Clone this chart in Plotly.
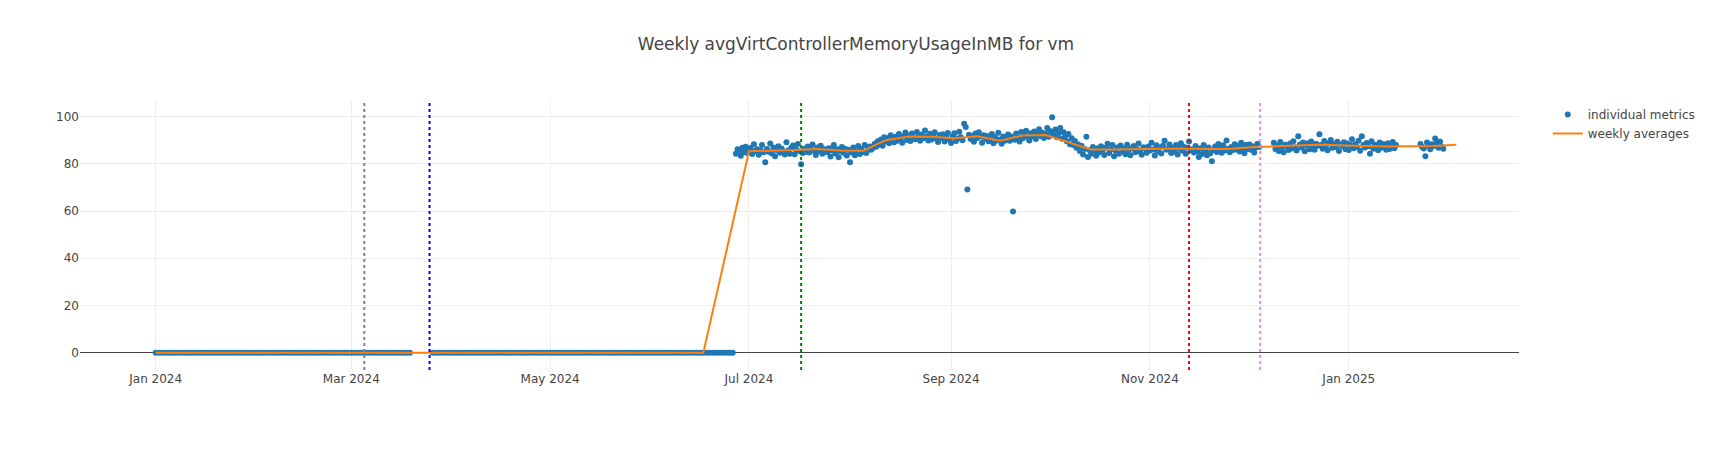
import pandas as pd
import plotly.graph_objects as go

TITLE = "Weekly avgVirtControllerMemoryUsageInMB for vm"

# ---- individual metrics, in segments (start, sampling step, values) ----
zero_seg1_start = "2024-01-01"
zero_seg1_step = "1D"
zero_seg1_values = [
    0, 0, 0, 0, 0, 0, 0, 0, 0, 0,
    0, 0, 0, 0, 0, 0, 0, 0, 0, 0,
    0, 0, 0, 0, 0, 0, 0, 0, 0, 0,
    0, 0, 0, 0, 0, 0, 0, 0, 0, 0,
    0, 0, 0, 0, 0, 0, 0, 0, 0, 0,
    0, 0, 0, 0, 0, 0, 0, 0, 0, 0,
    0, 0, 0, 0, 0, 0, 0, 0, 0, 0,
    0, 0, 0, 0, 0, 0, 0, 0, 0,
]

zero_seg2_start = "2024-03-26"
zero_seg2_step = "1D"
zero_seg2_values = [
    0, 0, 0, 0, 0, 0, 0, 0, 0, 0,
    0, 0, 0, 0, 0, 0, 0, 0, 0, 0,
    0, 0, 0, 0, 0, 0, 0, 0, 0, 0,
    0, 0, 0, 0, 0, 0, 0, 0, 0, 0,
    0, 0, 0, 0, 0, 0, 0, 0, 0, 0,
    0, 0, 0, 0, 0, 0, 0, 0, 0, 0,
    0, 0, 0, 0, 0, 0, 0, 0, 0, 0,
    0, 0, 0, 0, 0, 0, 0, 0, 0, 0,
    0, 0, 0, 0, 0, 0, 0, 0, 0, 0,
    0, 0, 0,
]

high_seg1_start = "2024-06-27"
high_seg1_step = "12h"
high_seg1_values = [
    84.2, 86.1, 85.3, 83.4, 86.8, 85.0, 87.2, 84.6, 85.9, 86.7, 84.1, 88.3, 85.4, 86.2,
    83.8, 85.7, 87.9, 84.9, 80.6, 86.3, 85.1, 88.6, 84.4, 86.9, 83.2, 85.8, 87.4, 84.7,
    86.5, 85.2, 83.9, 89.1, 85.6, 84.3, 86.8, 87.7, 84.0, 85.9, 88.4, 85.3, 79.8, 84.6,
    86.4, 85.1, 87.3, 84.8, 86.0, 88.2, 85.5, 83.7, 86.9, 85.4, 87.6, 84.2, 86.3, 85.8,
    84.9, 86.6, 83.1, 85.7, 87.9, 84.4, 86.2, 82.8, 85.3, 87.1, 84.7, 86.4, 83.5, 85.9,
    80.7, 84.8, 86.9, 83.6, 85.2, 87.5, 84.1, 86.3, 85.0, 88.0, 84.6, 86.8, 87.3, 85.9,
    86.7, 88.4, 87.2, 89.5, 88.1, 90.3, 87.6, 91.2, 89.4, 90.8, 88.7, 92.1, 90.2, 89.1,
    91.4, 89.8, 92.6, 90.5, 88.9, 91.7, 93.2, 90.1, 91.9, 89.6, 92.8, 91.0, 90.4, 93.5,
    91.3, 89.7, 92.4, 90.8, 94.1, 91.6, 89.9, 92.7, 90.3, 91.8, 93.3, 90.6, 89.2, 92.2,
    90.9, 92.5, 89.4, 91.1, 93.0, 90.2, 88.8, 91.5, 92.9, 89.6, 90.7, 93.6, 91.2, 90.0,
    97.0, 95.6, 69.1, 92.3, 90.5, 91.9, 89.3, 92.8, 90.9, 93.4, 91.5, 88.9, 92.1, 90.6,
    91.8, 89.5, 90.7, 92.6, 88.7, 91.2, 89.9, 93.1, 90.3, 88.5, 91.6, 89.8, 90.9, 92.4,
    89.7, 91.5, 59.8, 90.2, 92.8, 91.1, 89.4, 93.5, 90.8, 92.2, 94.0, 91.3, 89.9, 92.9,
    91.6, 93.7, 90.5, 92.4, 94.6, 91.8, 93.1, 90.9, 92.7, 95.2, 91.4, 93.8, 99.7, 92.3,
    94.5, 91.2, 92.9, 95.1, 90.6, 93.4, 91.7, 89.5, 92.6, 88.3, 90.8, 87.9, 89.6, 86.8,
    88.2, 85.4, 87.6, 83.9, 86.3, 91.4, 82.9, 85.7, 84.3, 87.1, 85.0, 83.4, 86.6, 84.8,
    87.4, 85.9, 83.7, 86.8, 88.5, 84.6, 86.1, 87.9, 83.2, 85.5, 86.9, 84.2, 87.7, 85.3,
    86.4, 84.0, 88.1, 85.8, 83.6, 86.7, 87.5, 84.9, 86.2, 88.6, 85.1, 83.8, 87.0, 86.5,
    84.7, 87.3, 85.6, 88.9, 86.0, 83.5, 87.8, 85.2, 86.9, 84.4, 87.6, 89.8, 85.9, 86.3,
    88.2, 84.6, 86.7, 85.1, 87.9, 83.9, 86.4, 88.7, 85.5, 87.1, 84.3, 86.8, 89.4, 85.7,
    86.1, 84.8, 87.5, 85.3, 82.9, 86.6, 84.1, 88.0, 85.7, 83.6, 86.9, 84.5, 81.1, 85.8,
    87.3, 85.0, 88.4, 86.2, 84.7, 87.8, 85.6, 89.9, 86.4, 84.9, 87.1, 85.8, 88.3, 86.0,
    87.6, 85.2, 88.9, 86.7, 84.5, 87.9, 86.3, 88.2, 85.9, 87.4, 84.8, 86.9, 88.5, 87.1,
]

high_seg2_start = "2024-12-09"
high_seg2_step = "12h"
high_seg2_values = [
    88.9, 86.3, 87.7, 85.4, 89.2, 86.8, 84.9, 88.1, 87.3, 85.8, 88.6, 86.5, 89.5, 87.0,
    85.6, 91.7, 88.2, 86.9, 89.0, 85.3, 87.8, 88.7, 86.1, 89.4, 87.2, 85.9, 88.5, 87.6,
    92.5, 88.0, 86.4, 89.6, 87.3, 85.7, 88.8, 90.1, 86.8, 88.4, 87.0, 89.3, 85.4, 88.1,
    87.5, 89.1, 86.2, 88.6, 85.8, 87.9, 90.4, 86.6, 88.3, 87.1, 89.7, 85.5, 91.7, 88.0,
    86.9, 88.8, 87.4, 84.2, 89.5, 86.4, 88.1, 87.6, 85.7, 89.0, 86.8, 88.4, 87.2, 85.9,
    88.7, 86.3, 87.8, 89.2, 86.6, 88.0,
]

high_seg3_start = "2025-01-23"
high_seg3_step = "12h"
high_seg3_values = [
    88.4, 87.1, 86.5, 83.2, 89.0, 87.6, 86.2, 88.3, 87.5, 90.7, 88.9, 86.8,
    89.4, 87.3, 86.4,
]

# ---- weekly averages ----
weekly_dates = [
    "2024-01-01", "2024-01-08", "2024-01-15", "2024-01-22", "2024-01-29",
    "2024-02-05", "2024-02-12", "2024-02-19", "2024-02-26", "2024-03-04",
    "2024-03-11", "2024-03-18", "2024-03-25", "2024-04-01", "2024-04-08",
    "2024-04-15", "2024-04-22", "2024-04-29", "2024-05-06", "2024-05-13",
    "2024-05-20", "2024-05-27", "2024-06-03", "2024-06-10", "2024-06-17",
    "2024-07-01", "2024-07-08", "2024-07-15", "2024-07-22", "2024-07-29",
    "2024-08-05", "2024-08-12", "2024-08-19", "2024-08-26", "2024-09-02",
    "2024-09-09", "2024-09-16", "2024-09-23", "2024-09-30", "2024-10-07",
    "2024-10-14", "2024-10-21", "2024-10-28", "2024-11-04", "2024-11-11",
    "2024-11-18", "2024-11-25", "2024-12-02", "2024-12-09", "2024-12-16",
    "2024-12-23", "2024-12-30", "2025-01-06", "2025-01-13", "2025-01-20",
    "2025-01-27", "2025-02-03",
]
weekly_values = [
    0, 0, 0, 0, 0,
    0, 0, 0, 0, 0,
    0, 0, 0, 0, 0,
    0, 0, 0, 0, 0,
    0, 0, 0, 0, 0,
    85.3, 85.5, 85.8, 86.3, 85.6,
    85.5, 90.0, 91.5, 91.4, 90.8,
    91.7, 89.8, 92.0, 92.2, 89.2,
    86.0, 86.0, 86.3, 86.4, 86.4,
    86.3, 86.3, 87.0, 87.2, 87.7,
    88.1, 87.7, 87.5, 87.3, 87.3,
    87.5, 88.1,
]

# ---- event markers (vertical dotted lines) ----
event_dates = ["2024-03-05", "2024-03-25", "2024-07-17", "2024-11-13", "2024-12-04 20:00"]
event_colors = ["gray", "blue", "green", "red", "violet"]

segments = [
    (zero_seg1_start, zero_seg1_step, zero_seg1_values),
    (zero_seg2_start, zero_seg2_step, zero_seg2_values),
    (high_seg1_start, high_seg1_step, high_seg1_values),
    (high_seg2_start, high_seg2_step, high_seg2_values),
    (high_seg3_start, high_seg3_step, high_seg3_values),
]

pts_x, pts_y = [], []
for start, step, vals in segments:
    pts_x.extend(pd.date_range(start, periods=len(vals), freq=step))
    pts_y.extend(vals)

fig = go.Figure()
fig.add_trace(go.Scatter(
    x=pts_x, y=pts_y, mode="markers", name="individual metrics",
    marker=dict(color="#1f77b4", size=6),
))
fig.add_trace(go.Scatter(
    x=pd.to_datetime(weekly_dates), y=weekly_values, mode="lines",
    name="weekly averages", line=dict(color="#ff7f0e", width=2),
))

for d, c in zip(event_dates, event_colors):
    fig.add_vline(x=pd.Timestamp(d).timestamp() * 1000, line=dict(color=c, width=2, dash="dot"))

fig.update_layout(
    template="none",
    width=1712, height=450,
    title=dict(text=TITLE, x=0.5),
    font=dict(family="DejaVu Sans, Verdana, sans-serif"),
    plot_bgcolor="white", paper_bgcolor="white",
)

fig.write_html("out.html", config={"displayModeBar": False})

# remove the default page margin so the figure sits at the top-left corner
with open("out.html", "r", encoding="utf-8") as f:
    html = f.read()
html = html.replace("<body>", '<body style="margin:0">', 1)
with open("out.html", "w", encoding="utf-8") as f:
    f.write(html)
